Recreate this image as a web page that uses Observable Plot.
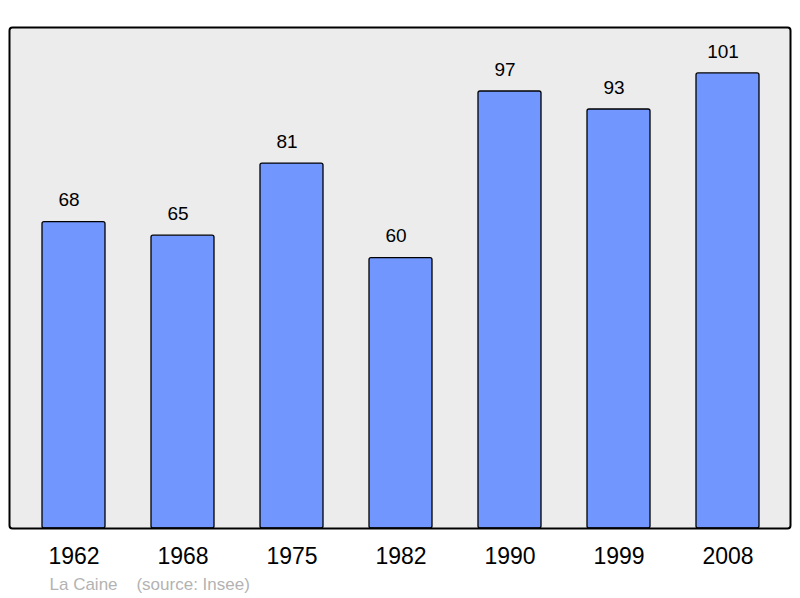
<!DOCTYPE html>
<html><head><meta charset="utf-8">
<script src="https://cdn.jsdelivr.net/npm/d3@7"></script>
<script src="https://cdn.jsdelivr.net/npm/@observablehq/plot@0.6"></script>
<style>body{margin:0;background:#fff;font-family:"Liberation Sans",Arial,sans-serif}</style>
</head><body><div id="chart"></div>
<script>
const years = ["1962","1968","1975","1982","1990","1999","2008"];
const population = [68,65,81,60,97,93,101];
const caption = "La Caine    (source: Insee)";
const data = years.map((y,i)=>({year:y, pop:population[i]}));

const chart = Plot.plot({
  width: 800, height: 598,
  marginLeft: 9, marginRight: 10, marginTop: 27, marginBottom: 70,
  style: {fontFamily: '"Liberation Sans", Arial, sans-serif', background: "white"},
  x: {domain: years, range: [18, 783], paddingInner: 0.424, paddingOuter: 0.212, label: null, tickSize: 0},
  y: {domain: [0, 111.2], axis: null},
  marks: [
    Plot.frame({fill: "#ececec", rx: 3}),
    Plot.barY(data, {x: "year", y: "pop", fill: "#7197ff", stroke: "#000", strokeWidth: 1.3, rx: 2}),
    Plot.text(data, {x: "year", y: "pop", text: d => String(d.pop), dx: -5, dy: -22, fontSize: 19, fill: "#000"}),
    Plot.frame({stroke: "#000", strokeWidth: 2, rx: 3}),
    Plot.axisX({tickSize: 0, tickPadding: 19, fontSize: 23, fill: "#000", label: null}),
    Plot.text([caption], {frameAnchor: "bottom-left", text: d => d, dx: 40, dy: 61, fontSize: 17, fill: "#b3b3b3", textAnchor: "start"})
  ]
});
document.getElementById("chart").appendChild(chart);
</script></body></html>
